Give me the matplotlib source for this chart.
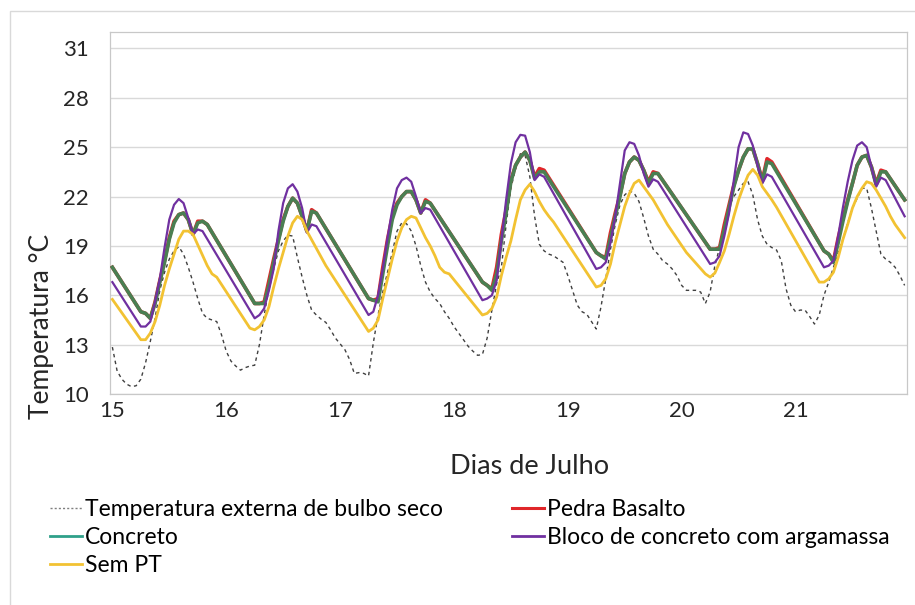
import matplotlib
matplotlib.use('Agg')
import matplotlib.pyplot as plt
from matplotlib.lines import Line2D
from matplotlib.patches import Rectangle
import numpy as np

plt.rcParams['font.family'] = ['Lato', 'DejaVu Sans']

# hours from 00h of July 15
dias = ['15', '16', '17', '18', '19', '20', '21']

# Temperatura externa de bulbo seco (hourly)
externa = [12.85, 11.4, 10.9, 10.6, 10.45, 10.5, 10.9, 11.9, 13.2, 14.6, 16.3, 17.4, 18.2, 18.7, 18.95, 18.5,
           17.7, 16.8, 15.8, 14.9, 14.6, 14.5, 14.4, 13.6, 12.6, 12.0, 11.7, 11.45, 11.6, 11.7, 11.75, 13.0,
           14.8, 16.4, 17.6, 18.7, 19.3, 19.65, 19.6, 18.3, 17.1, 16.0, 15.1, 14.8, 14.55, 14.35, 13.9, 13.4,
           13.05, 12.7, 12.1, 11.25, 11.3, 11.25, 11.1, 13.1, 14.8, 16.2, 17.4, 18.6, 19.9, 20.4, 20.35, 19.9,
           19.0, 17.8, 16.8, 16.2, 15.8, 15.5, 15.0, 14.6, 14.1, 13.7, 13.3, 12.9, 12.6, 12.35, 12.4, 13.4,
           15.1, 16.7, 17.7, 20.3, 22.5, 23.7, 24.6, 24.5, 23.2, 20.8, 19.1, 18.7, 18.5, 18.4, 18.2, 18.0,
           17.2, 16.3, 15.4, 15.0, 14.85, 14.4, 13.95, 15.3, 17.0, 18.8, 20.3, 21.5, 22.1, 22.35, 22.2, 21.7,
           20.7, 19.6, 18.8, 18.5, 18.1, 17.9, 17.6, 17.2, 16.6, 16.3, 16.3, 16.3, 16.2, 15.5, 16.2, 17.8,
           18.9, 20.1, 21.4, 22.0, 22.4, 22.8, 22.9, 22.1, 20.6, 19.6, 19.1, 18.9, 18.75, 18.1, 16.4, 15.4,
           15.0, 15.1, 15.1, 14.7, 14.25, 14.8, 16.0, 16.8, 17.7, 18.6, 19.4, 20.4, 21.3, 21.9, 22.5, 22.5,
           21.3, 19.9, 18.5, 18.2, 18.0, 17.7, 17.2, 16.6]
externa_h = list(range(len(externa)))

# Concreto / Pedra Basalto
concreto_h = [0, 6, 7, 8, 9, 10, 11, 12, 13, 14, 15, 16, 17, 18, 19, 20,
              30, 31, 32, 33, 34, 35, 36, 37, 38, 39, 40, 41, 42, 43,
              54, 55, 56, 57, 58, 59, 60, 61, 62, 63, 64, 65, 66, 67,
              78, 79, 80, 81, 82, 83, 84, 85, 86, 87, 88, 89, 90, 91,
              102, 103, 104, 105, 106, 107, 108, 109, 110, 111, 112, 113, 114, 115,
              126, 127, 128, 129, 130, 131, 132, 133, 134, 135, 136, 137, 138, 139,
              150, 151, 152, 153, 154, 155, 156, 157, 158, 159, 160, 161, 162, 163, 167]
concreto = [17.7, 15.0, 14.9, 14.6, 15.5, 16.8, 18.0, 19.4, 20.4, 20.9, 21.0, 20.6, 19.7, 20.4, 20.5, 20.3,
            15.5, 15.5, 15.5, 16.6, 18.0, 19.3, 20.5, 21.4, 21.9, 21.6, 20.8, 19.9, 21.1, 21.0,
            15.8, 15.7, 15.6, 17.3, 19.0, 20.6, 21.5, 22.0, 22.3, 22.3, 21.8, 21.0, 21.7, 21.6,
            16.8, 16.6, 16.3, 17.3, 19.3, 21.0, 22.9, 23.9, 24.4, 24.7, 24.2, 23.1, 23.5, 23.5,
            18.6, 18.4, 18.2, 19.5, 20.8, 22.0, 23.4, 24.1, 24.4, 24.2, 23.6, 22.8, 23.4, 23.4,
            18.8, 18.8, 18.8, 20.0, 21.3, 22.6, 23.6, 24.4, 24.9, 24.9, 24.0, 22.9, 24.1, 24.0,
            18.7, 18.5, 18.0, 19.2, 20.5, 21.7, 22.8, 23.9, 24.4, 24.5, 23.8, 22.7, 23.5, 23.5, 21.8]
basalto = [17.7, 15.0, 14.9, 14.6, 15.6, 16.9, 18.1, 19.5, 20.5, 20.9, 21.0, 20.6, 19.7, 20.5, 20.5, 20.3,
           15.5, 15.5, 15.6, 16.9, 18.2, 19.4, 20.6, 21.4, 21.9, 21.6, 20.8, 19.9, 21.2, 21.0,
           15.8, 15.7, 15.8, 17.7, 19.4, 20.8, 21.6, 22.0, 22.3, 22.3, 21.8, 21.0, 21.8, 21.6,
           16.8, 16.6, 16.4, 17.7, 19.7, 21.2, 23.0, 23.9, 24.4, 24.7, 24.2, 23.2, 23.7, 23.6,
           18.6, 18.4, 18.3, 19.8, 21.0, 22.1, 23.4, 24.1, 24.4, 24.2, 23.6, 22.9, 23.5, 23.4,
           18.8, 18.8, 18.9, 20.3, 21.5, 22.7, 23.6, 24.4, 24.9, 24.9, 24.0, 23.0, 24.3, 24.1,
           18.7, 18.5, 18.1, 19.5, 20.7, 21.8, 22.8, 23.9, 24.4, 24.5, 23.8, 22.8, 23.6, 23.5, 21.8]

# Bloco de concreto com argamassa
bloco_h = [0, 6, 7, 8, 9, 10, 11, 12, 13, 14, 15, 16, 17, 18, 19,
           30, 31, 32, 33, 34, 35, 36, 37, 38, 39, 40, 41, 42, 43,
           54, 55, 56, 57, 58, 59, 60, 61, 62, 63, 64, 65, 66, 67,
           78, 79, 80, 81, 82, 83, 84, 85, 86, 87, 88, 89, 90, 91,
           102, 103, 104, 105, 106, 107, 108, 109, 110, 111, 112, 113, 114, 115,
           126, 127, 128, 129, 130, 131, 132, 133, 134, 135, 136, 137, 138, 139,
           150, 151, 152, 153, 154, 155, 156, 157, 158, 159, 160, 161, 162, 163, 167]
bloco = [16.8, 14.1, 14.1, 14.4, 15.6, 17.0, 18.9, 20.6, 21.5, 21.85, 21.6, 20.7, 19.7, 20.0, 19.9,
         14.6, 14.8, 15.2, 16.3, 17.6, 19.9, 21.6, 22.5, 22.75, 22.3, 21.3, 19.8, 20.3, 20.2,
         14.8, 15.0, 16.0, 17.6, 19.5, 21.2, 22.5, 23.0, 23.15, 22.9, 22.0, 21.0, 21.3, 21.2,
         15.7, 15.8, 16.0, 16.9, 19.3, 21.8, 24.0, 25.3, 25.75, 25.7, 24.7, 23.0, 23.35, 23.2,
         17.6, 17.7, 18.0, 19.2, 20.8, 22.8, 24.8, 25.3, 25.2, 24.5, 23.4, 22.6, 23.05, 22.9,
         17.9, 18.0, 18.4, 19.6, 21.0, 23.0, 25.0, 25.9, 25.8, 25.1, 23.9, 22.8, 23.35, 23.2,
         17.7, 17.8, 18.1, 19.6, 21.35, 22.9, 24.2, 25.1, 25.3, 25.0, 23.8, 22.6, 23.15, 23.0, 20.8]

# Sem PT
sempt_h = [0, 6, 7, 8, 9, 10, 11, 12, 13, 14, 15, 16, 17, 20, 21, 22,
           29, 30, 31, 32, 33, 34, 35, 36, 37, 38, 39, 40, 41, 45,
           54, 55, 56, 57, 58, 59, 60, 61, 62, 63, 64, 65, 66, 67, 68, 69, 70, 71,
           78, 79, 80, 81, 82, 83, 84, 85, 86, 87, 88, 89, 90, 91, 92, 93,
           102, 103, 104, 105, 106, 107, 108, 109, 110, 111, 112, 113, 114, 117, 121,
           125, 126, 127, 128, 129, 130, 131, 132, 133, 134, 135, 136, 137, 138, 139, 140,
           149, 150, 151, 152, 153, 154, 155, 156, 157, 158, 159, 160, 161, 162, 163, 164, 165, 166, 167]
sempt = [15.75, 13.3, 13.3, 13.7, 14.4, 15.4, 16.6, 17.6, 18.5, 19.4, 19.9, 19.9, 19.7, 17.8, 17.3, 17.1,
         14.0, 13.9, 14.1, 14.5, 15.3, 16.5, 17.6, 18.6, 19.6, 20.4, 20.8, 20.6, 19.9, 17.8,
         13.8, 14.0, 14.5, 15.8, 17.0, 18.2, 19.3, 20.1, 20.6, 20.8, 20.7, 20.1, 19.5, 19.0, 18.4, 17.7, 17.4, 17.3,
         14.8, 14.9, 15.2, 15.9, 17.2, 18.3, 19.3, 20.6, 21.8, 22.4, 22.75, 22.3, 21.7, 21.2, 20.8, 20.45,
         16.5, 16.6, 17.0, 17.9, 19.2, 20.3, 21.4, 22.2, 22.8, 23.0, 22.6, 22.2, 21.8, 20.3, 18.6,
         17.3, 17.1, 17.35, 18.0, 18.7, 19.7, 20.8, 21.8, 22.6, 23.3, 23.65, 23.3, 22.6, 22.2, 21.8, 21.35,
         16.8, 16.8, 17.0, 17.4, 18.3, 19.4, 20.3, 21.3, 22.0, 22.5, 22.9, 22.8, 22.4, 21.9, 21.4, 20.8, 20.3, 19.9, 19.5]

c_ext = '#404040'
c_bas = '#e0262a'
c_con = '#4a7f52'
c_blo = '#7030a0'
c_sem = '#f2c232'

fig = plt.figure(figsize=(9.15, 6.05), dpi=100)
ax = fig.add_axes([110/915, 1-394/605, 797/915, 362/605])

ax.plot(externa_h, externa, color=c_ext, lw=1.0, ls=(0, (2.5, 2.5)), zorder=3)
ax.plot(concreto_h, basalto, color=c_bas, lw=2.6, zorder=4)
ax.plot(concreto_h, concreto, color=c_con, lw=2.6, zorder=5)
ax.plot(bloco_h, bloco, color=c_blo, lw=1.6, zorder=6)
ax.plot(sempt_h, sempt, color=c_sem, lw=2.0, zorder=7)

ax.set_xlim(-0.5, 167.5)
ax.set_ylim(10, 32)
ax.set_yticks(np.arange(10, 32, 3))
ax.set_xticks(np.arange(0, 168, 24))
ax.set_xticklabels(dias)
ax.tick_params(axis='both', length=0, labelsize=16, colors='#262626')
ax.tick_params(axis='y', pad=15)
ax.tick_params(axis='x', pad=5)
ax.grid(axis='y', color='#d9d9d9', lw=1.0)
ax.set_axisbelow(True)
for s in ax.spines.values():
    s.set_color('#c8c8c8')
    s.set_linewidth(0.9)

fig.text(42/915, 1-326/605, 'Temperatura °C', rotation=90, ha='center', va='center',
         fontsize=19, color='#262626')
fig.text(530/915, 1-466/605, 'Dias de Julho', ha='center', va='center',
         fontsize=19.5, color='#262626')

# chart area border
fig.patches.append(Rectangle((10/915, -0.05), 1.2, 1.05-11/605, transform=fig.transFigure,
                             fill=False, edgecolor='#d9d9d9', lw=1.0))

h1 = [Line2D([], [], color='#7f7f7f', lw=1.0, ls=(0, (1.5, 1.5))),
      Line2D([], [], color='#2fa08a', lw=2.0),
      Line2D([], [], color=c_sem, lw=2.0)]
h2 = [Line2D([], [], color=c_bas, lw=2.2),
      Line2D([], [], color=c_blo, lw=2.0)]
kw = dict(loc='upper left', frameon=False, fontsize=16.5, handlelength=1.4, handletextpad=0.12,
          labelspacing=0.3, borderpad=0, borderaxespad=0)
fig.legend(h1, ['Temperatura externa de bulbo seco', 'Concreto', 'Sem PT'],
           bbox_to_anchor=(50/915, 1-499/605), **kw)
fig.legend(h2, ['Pedra Basalto', 'Bloco de concreto com argamassa'],
           bbox_to_anchor=(512/915, 1-499/605), **kw)

fig.savefig('out.png', dpi=100)
